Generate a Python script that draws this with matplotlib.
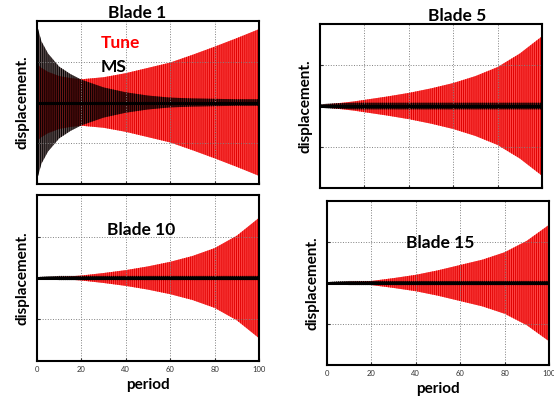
import matplotlib.pyplot as plt
import numpy as np

# envelope readings (peak displacement) at these periods
period = [0, 2, 5, 10, 15, 20, 30, 40, 50, 60, 70, 80, 90, 100]

titles = ['Blade 1', 'Blade 5', 'Blade 10', 'Blade 15']

tune_b1 = [0.95, 0.85, 0.75, 0.65, 0.6, 0.57, 0.62, 0.72, 0.85, 0.98, 1.17, 1.37, 1.58, 1.8]
ms_b1 = [1.9, 1.5, 1.2, 0.88, 0.7, 0.56, 0.37, 0.25, 0.17, 0.12, 0.1, 0.09, 0.08, 0.08]

tune_b5 = [0.02, 0.03, 0.05, 0.08, 0.11, 0.15, 0.23, 0.32, 0.43, 0.56, 0.73, 0.95, 1.28, 1.7]
ms_b5 = [0.04, 0.05, 0.06, 0.07, 0.08, 0.08, 0.08, 0.08, 0.08, 0.08, 0.08, 0.08, 0.08, 0.08]

tune_b10 = [0.0, 0.01, 0.02, 0.03, 0.04, 0.06, 0.12, 0.19, 0.28, 0.39, 0.53, 0.72, 1.02, 1.45]
ms_b10 = [0.02, 0.03, 0.04, 0.05, 0.05, 0.05, 0.05, 0.05, 0.05, 0.05, 0.05, 0.05, 0.05, 0.05]

tune_b15 = [0.0, 0.01, 0.02, 0.03, 0.04, 0.05, 0.12, 0.2, 0.31, 0.44, 0.57, 0.75, 1.03, 1.42]
ms_b15 = [0.02, 0.03, 0.04, 0.05, 0.05, 0.05, 0.05, 0.05, 0.05, 0.05, 0.05, 0.05, 0.05, 0.05]

tune = [tune_b1, tune_b5, tune_b10, tune_b15]
ms = [ms_b1, ms_b5, ms_b10, ms_b15]

xticks = [0, 20, 40, 60, 80, 100]

plt.rcParams['font.family'] = ['Lato', 'DejaVu Sans']
plt.rcParams['hatch.linewidth'] = 0.7

fig = plt.figure(figsize=(5.54, 3.98), dpi=100)
rects = [[0.0668, 0.5377, 0.4007, 0.4095],
         [0.5776, 0.5276, 0.4007, 0.412],
         [0.0668, 0.093, 0.4007, 0.417],
         [0.5903, 0.0829, 0.4007, 0.412]]
title_x = [0.45, 0.62]

for i in range(4):
    ax = fig.add_axes(rects[i])
    t = np.array(tune[i])
    m = np.array(ms[i])
    plt.rcParams['hatch.color'] = '#e00000'
    ax.fill_between(period, -t, t, facecolor='#ff4545', edgecolor='#e00000',
                    hatch='||||||||', linewidth=0)
    plt.rcParams['hatch.color'] = 'black'
    ax.fill_between(period, -m, m, facecolor=(0.1, 0, 0, 0.65), edgecolor='black',
                    hatch='||||||||', linewidth=0)
    ax.plot(period, np.zeros(len(period)), color='black', linewidth=2.2)
    ax.set_xlim(0, 100)
    ax.set_ylim(-2, 2)
    ax.set_xticks(xticks)
    ax.set_yticks([-1, 0, 1])
    ax.set_yticklabels([])
    ax.grid(True, color='gray', linestyle=':', linewidth=0.7)
    ax.tick_params(direction='in', length=2, labelsize=5.5, colors='#333333')
    for s in ax.spines.values():
        s.set_linewidth(1.5)
    ax.set_ylabel('displacement.', fontsize=11, fontweight='bold', labelpad=2)
    if i < 2:
        ax.set_xticklabels([])
        ax.set_title(titles[i], fontsize=12.5, fontweight='bold', pad=2, x=title_x[i])
    else:
        ax.set_xlabel('period', fontsize=11, fontweight='bold', labelpad=4)
    if i == 2:
        ax.text(47, 1.16, titles[i], fontsize=12.5, fontweight='bold', ha='center', va='center')
    if i == 3:
        ax.text(51, 0.98, titles[i], fontsize=12.5, fontweight='bold', ha='center', va='center')
    if i == 0:
        ax.text(28.5, 1.47, 'Tune', color='red', fontsize=12.5, fontweight='bold', va='center')
        ax.text(28.5, 0.86, 'MS', color='black', fontsize=12.5, fontweight='bold', va='center')

plt.savefig('out.png', dpi=100)
